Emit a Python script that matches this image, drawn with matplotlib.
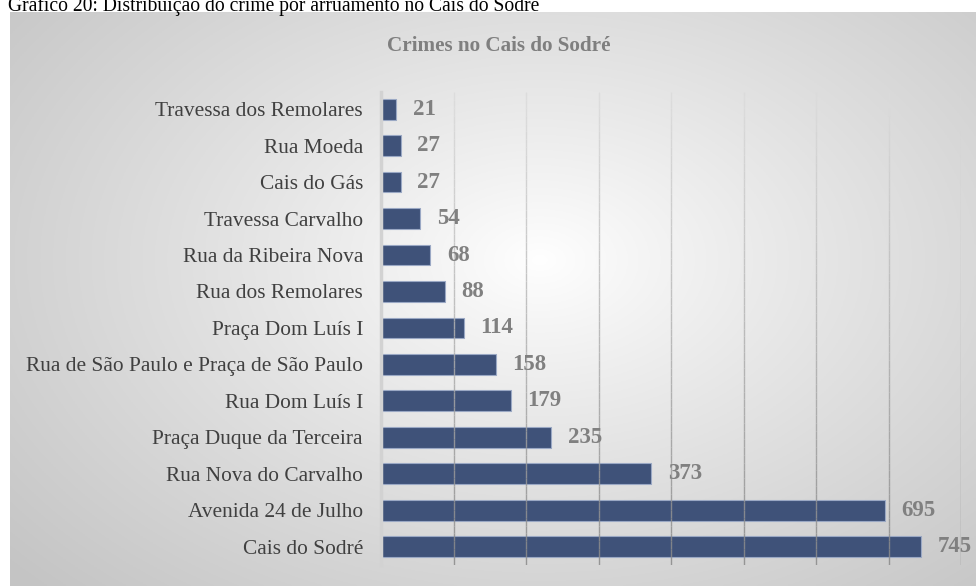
import matplotlib
matplotlib.use("Agg")
import matplotlib.pyplot as plt
from matplotlib.collections import LineCollection
import numpy as np

categories = ["Travessa dos Remolares", "Rua Moeda", "Cais do Gás", "Travessa Carvalho",
              "Rua da Ribeira Nova", "Rua dos Remolares", "Praça Dom Luís I",
              "Rua de São Paulo e Praça de São Paulo", "Rua Dom Luís I",
              "Praça Duque da Terceira", "Rua Nova do Carvalho", "Avenida 24 de Julho",
              "Cais do Sodré"]
values = [21, 27, 27, 54, 68, 88, 114, 158, 179, 235, 373, 695, 745]
grid_ticks = [100, 200, 300, 400, 500, 600, 700, 800]
chart_title = "Crimes no Cais do Sodré"
caption = "Gráfico 20: Distribuição do crime por arruamento no Cais do Sodré"

W, H = 976, 586
fig = plt.figure(figsize=(W / 100, H / 100), dpi=100)
fig.patch.set_facecolor("white")
plt.rcParams["font.family"] = ["Liberation Serif", "DejaVu Serif"]

# background box with radial gradient
bx0, by0 = 10, 12
bg = fig.add_axes([bx0 / W, 0, 1 - bx0 / W, 1 - by0 / H])
bg.set_axis_off()
xs = np.linspace(bx0, W, 400)
ys = np.linspace(by0, H, 300)
X, Y = np.meshgrid(xs, ys)
cx, cy = 540, 260
u = (X - cx) / 500.0
v = (Y - cy) / 330.0
r = np.clip(np.sqrt(u ** 2 + v ** 2) / np.sqrt(2), 0, 1)
val = 1.0 - (1.0 - 0.77) * r ** 0.9
img = np.dstack([val, val, val])
bg.imshow(img, extent=[0, 1, 0, 1], aspect="auto", origin="upper", zorder=0)
bg.set_xlim(0, 1)
bg.set_ylim(0, 1)

# caption
fig.text(8 / W, 1 - 11 / H, caption, ha="left", va="baseline", fontsize=14.1,
         color="black")

# main axes
left, right, top, bottom = 381, 961, 92, 565
ax = fig.add_axes([left / W, 1 - bottom / H, (right - left) / W, (bottom - top) / H])
ax.patch.set_alpha(0)

ypos = np.arange(len(categories))
ax.barh(ypos, values, height=0.57, color="#3F5279", edgecolor="#9AA8C4",
        linewidth=0.8, zorder=1)
ymin, ymax = -0.47, len(categories) - 0.5
ax.set_xlim(0, 800)
ax.set_ylim(ymax, ymin)
ax.set_xticks([])
ax.set_yticks(ypos)
ax.set_yticklabels(categories, fontsize=15.4, color="#404040")
ax.tick_params(axis="both", length=0)
ax.tick_params(axis="y", pad=13)
for s in ["top", "right", "bottom"]:
    ax.spines[s].set_visible(False)
ax.spines["left"].set_color("#d2d2d2")
ax.spines["left"].set_linewidth(2.5)
ax.spines["left"].set_zorder(3)

# gridlines with a vertical shade (light at top, darker at bottom)
nseg = 60
edges = np.linspace(ymin, ymax, nseg + 1)
segs, cols = [], []
for gx in grid_ticks:
    for i in range(nseg):
        segs.append([(gx, edges[i]), (gx, edges[i + 1])])
        t = i / (nseg - 1)
        g = 0.86 - 0.32 * t
        cols.append((g, g, g, 0.85))
lc = LineCollection(segs, colors=cols, linewidths=1.0, zorder=2)
ax.add_collection(lc)

for yy, vv in zip(ypos, values):
    ax.annotate(str(vv), xy=(vv, yy), xytext=(12, 0), textcoords="offset points",
                ha="left", va="center", fontsize=16.5, fontweight="bold",
                color="#808080", zorder=4)

fig.text(499 / W, 1 - 46 / H, chart_title, ha="center", va="center", fontsize=15.2,
         fontweight="bold", color="#7f7f7f")

fig.savefig("out.png", dpi=100)
